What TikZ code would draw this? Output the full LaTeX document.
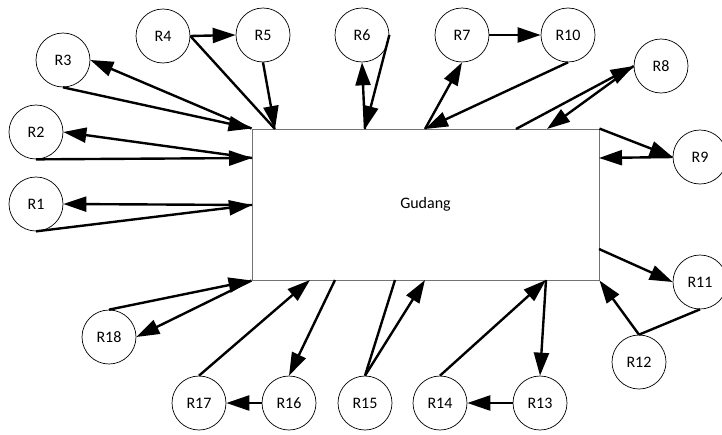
\documentclass[tikz,border=0pt]{standalone}
\usepackage{fontspec}
\setmainfont{Carlito}
\usepackage{tikz}
\usetikzlibrary{arrows.meta}

\begin{document}
\begin{tikzpicture}[
    x=1pt, y=-1pt,
    font=\fontsize{16}{19}\selectfont,
    room/.style={circle, draw=black, line width=0.7pt, minimum size=54pt, inner sep=0pt},
    store/.style={rectangle, draw=black!55, line width=0.9pt, minimum width=347pt, minimum height=151pt, inner sep=0pt},
    arrow/.style={-{Triangle[length=23pt,width=15pt]}, line width=2.4pt},
    link/.style={line width=2.4pt}
]
\useasboundingbox (0,0) rectangle (722,434);

\node[store] (gudang) at (425.5,204.5) {Gudang};

\node[room] (r1) at (36,204) {R1};
\node[room] (r2) at (36,132) {R2};
\node[room] (r3) at (63,60) {R3};
\node[room] (r4) at (163,36) {R4};
\node[room] (r5) at (263,35) {R5};
\node[room] (r6) at (362,35) {R6};
\node[room] (r7) at (462,35) {R7};
\node[room] (r10) at (568,35) {R10};
\node[room] (r8) at (661,66) {R8};
\node[room] (r9) at (700,157) {R9};
\node[room] (r11) at (700,282) {R11};
\node[room] (r12) at (639,362) {R12};
\node[room] (r13) at (540,403) {R13};
\node[room] (r14) at (440,403) {R14};
\node[room] (r15) at (365,403) {R15};
\node[room] (r16) at (289,403) {R16};
\node[room] (r17) at (199,403) {R17};
\node[room] (r18) at (109,337) {R18};

\coordinate (t1) at (275,129);
\coordinate (t2) at (365,129);
\coordinate (t3) at (425,129);
\coordinate (t4) at (516,129);
\coordinate (t5) at (547,129);
\coordinate (l1) at (252,158);
\coordinate (l2) at (252,205);
\coordinate (q1) at (599,158);
\coordinate (q2) at (599,249);
\coordinate (b1) at (310,280);
\coordinate (b2) at (335,280);
\coordinate (b3) at (395,280);
\coordinate (b4) at (425,280);
\coordinate (b5) at (546,280);

\draw[arrow] (r1.south) -- (l2);
\draw[arrow] (l2) -- (r1.east);
\draw[arrow] (r2.south) -- (l1);
\draw[arrow] (l1) -- (r2.east);
\draw[arrow] (r3.south) -- (gudang.north west);
\draw[arrow] (gudang.north west) -- (r3.east);
\draw[arrow] (r4.east) -- (r5.west);
\draw[link] (r4.east) -- (t1);
\draw[arrow] (r5.south) -- (t1);
\draw[arrow] (t2) -- (r6.south);
\draw[arrow] (r6.east) -- (t2);
\draw[arrow] (t3) -- (r7.south);
\draw[arrow] (r7.east) -- (r10.west);
\draw[arrow] (r10.south) -- (t3);
\draw[arrow] (t4) -- (r8.west);
\draw[arrow] (r8.west) -- (t5);
\draw[arrow] (gudang.north east) -- (r9.west);
\draw[arrow] (r9.west) -- (q1);
\draw[arrow] (q2) -- (r11.west);
\draw[link] (r11.south) -- (r12.north);
\draw[arrow] (r12.north) -- (gudang.south east);
\draw[arrow] (b5) -- (r13.north);
\draw[arrow] (r13.west) -- (r14.east);
\draw[arrow] (r14.north) -- (b5);
\draw[link] (r15.north) -- (b3);
\draw[arrow] (r15.north) -- (b4);
\draw[arrow] (b2) -- (r16.north);
\draw[arrow] (r16.west) -- (r17.east);
\draw[arrow] (r17.north) -- (b1);
\draw[arrow] (r18.north) -- (gudang.south west);
\draw[arrow] (gudang.south west) -- (r18.east);

\end{tikzpicture}
\end{document}
